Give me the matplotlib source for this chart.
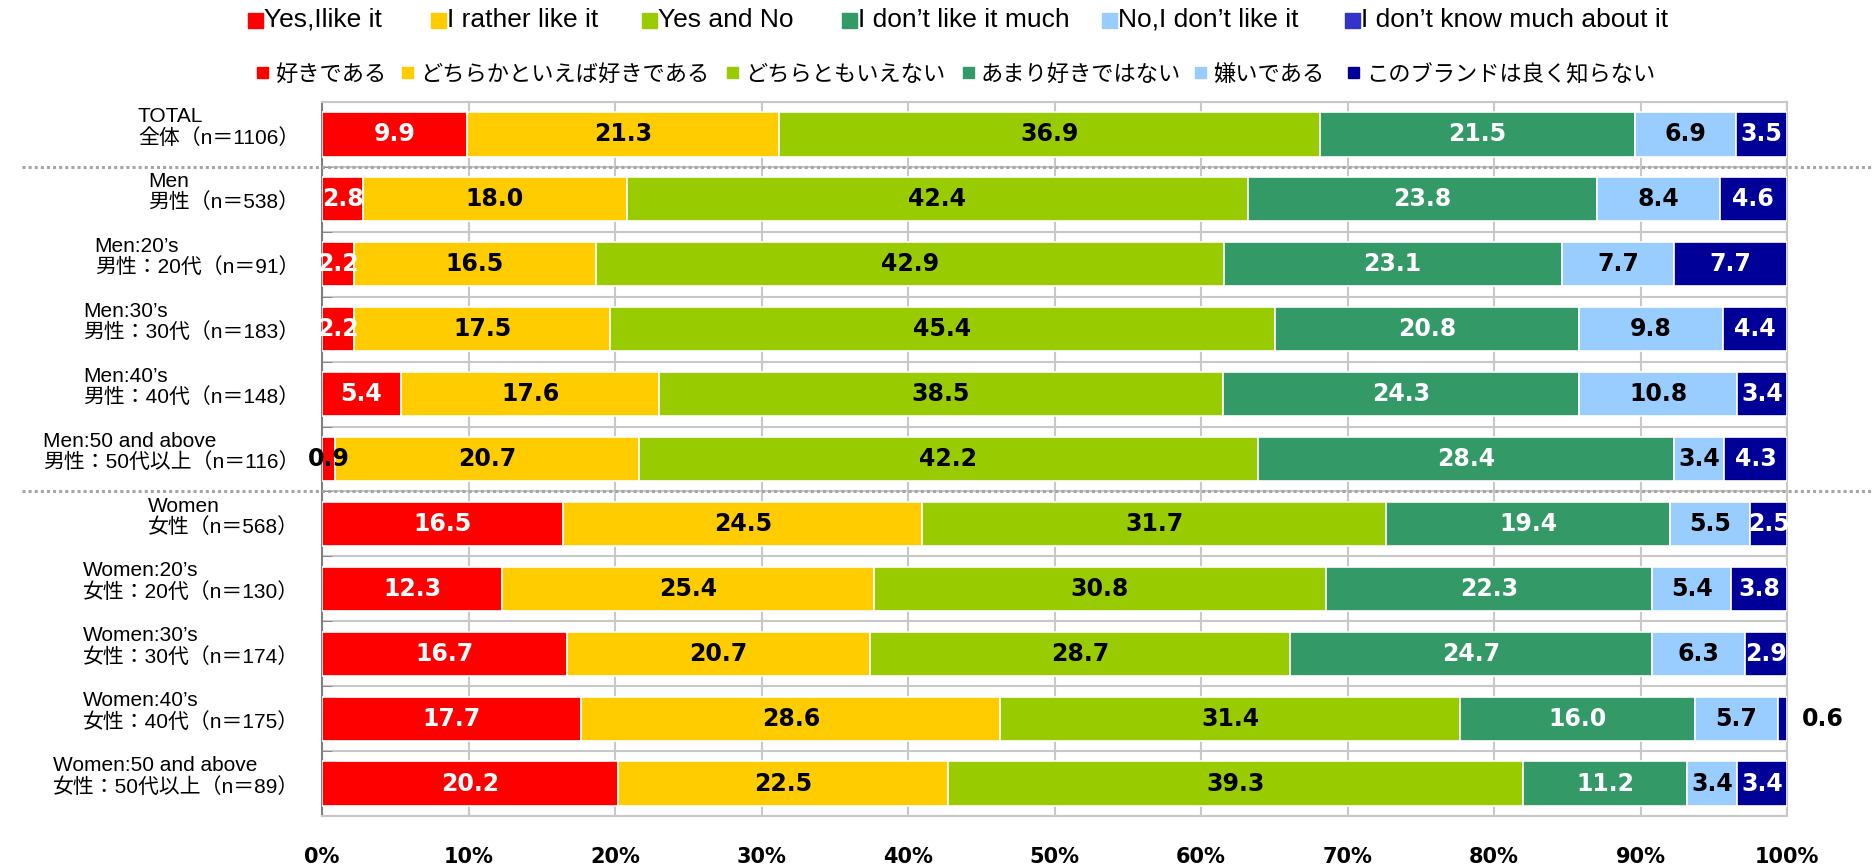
import matplotlib
matplotlib.use('Agg')
import matplotlib.pyplot as plt
import matplotlib.transforms as mtransforms
from matplotlib.patches import Rectangle
import numpy as np

# row labels (English line + Japanese line)
groups_en = ['TOTAL', 'Men', 'Men:20’s', 'Men:30’s', 'Men:40’s', 'Men:50 and above',
             'Women', 'Women:20’s', 'Women:30’s', 'Women:40’s', 'Women:50 and above']
groups_ja = ['全体（n＝1106）', '男性（n＝538）', '男性：20代（n＝91）', '男性：30代（n＝183）',
             '男性：40代（n＝148）', '男性：50代以上（n＝116）', '女性（n＝568）',
             '女性：20代（n＝130）', '女性：30代（n＝174）', '女性：40代（n＝175）',
             '女性：50代以上（n＝89）']

series_en = ['Yes,Ilike it', 'I rather like it', 'Yes and No', 'I don’t like it much',
             'No,I don’t like it', 'I don’t know much about it']
series_ja = ['好きである', 'どちらかといえば好きである', 'どちらともいえない',
             'あまり好きではない', '嫌いである', 'このブランドは良く知らない']

yes_like = [9.9, 2.8, 2.2, 2.2, 5.4, 0.9, 16.5, 12.3, 16.7, 17.7, 20.2]
rather_like = [21.3, 18.0, 16.5, 17.5, 17.6, 20.7, 24.5, 25.4, 20.7, 28.6, 22.5]
yes_and_no = [36.9, 42.4, 42.9, 45.4, 38.5, 42.2, 31.7, 30.8, 28.7, 31.4, 39.3]
not_much = [21.5, 23.8, 23.1, 20.8, 24.3, 28.4, 19.4, 22.3, 24.7, 16.0, 11.2]
dislike = [6.9, 8.4, 7.7, 9.8, 10.8, 3.4, 5.5, 5.4, 6.3, 5.7, 3.4]
dont_know = [3.5, 4.6, 7.7, 4.4, 3.4, 4.3, 2.5, 3.8, 2.9, 0.6, 3.4]

xticks = [0, 10, 20, 30, 40, 50, 60, 70, 80, 90, 100]

bar_colors = ['#FF0000', '#FFCC00', '#99CC00', '#339966', '#99CCFF', '#000099']
top_legend_colors = ['#FF0000', '#FFCC00', '#99CC00', '#339966', '#99CCFF', '#3333CC']
label_colors = ['white', 'black', 'black', 'white', 'black', 'white']

W, H = 1872, 866
# legend square positions in pixels (left edges)
top_sq_x = [248, 431, 642, 842, 1102, 1345]
bot_sq_x = [257, 402, 727, 963, 1195, 1348]

lat_cjk = ['Liberation Sans', 'Noto Sans CJK JP']

data = np.array([yes_like, rather_like, yes_and_no, not_much, dislike, dont_know])
shares = data / data.sum(axis=0) * 100

fig = plt.figure(figsize=(W / 100, H / 100), dpi=100)
ax = fig.add_axes([322 / W, 1 - 816 / H, 1465 / W, 714 / H])

y = np.arange(len(groups_en))
left = np.zeros(len(y))
for i in range(len(series_en)):
    ax.barh(y, shares[i], left=left, height=0.68, color=bar_colors[i],
            edgecolor='white', linewidth=1.2, zorder=3)
    for j in range(len(y)):
        v = data[i, j]
        cx = left[j] + shares[i, j] / 2
        color = label_colors[i]
        ha = 'center'
        if v < 1:
            color = 'black'
            if i == len(series_en) - 1:
                cx, ha = 101.0, 'left'
        ax.text(cx, y[j], f'{v:.1f}', ha=ha, va='center', color=color,
                fontsize=17, fontweight='bold', family='DejaVu Sans', zorder=5,
                clip_on=False)
    left += shares[i]

ax.set_xlim(0, 100)
ax.set_ylim(len(y) - 0.5, -0.5)
ax.set_xticks(xticks)
ax.set_xticklabels([f'{t}%' for t in xticks], fontsize=15, fontweight='bold',
                   family='DejaVu Sans')
ax.tick_params(axis='x', length=0, pad=22)
ax.set_yticks([])
ax.set_yticks(np.arange(len(y) + 1) - 0.5, minor=True)
ax.tick_params(axis='y', which='minor', direction='in', length=7, color='#808080',
               labelleft=False)
ax.grid(axis='x', color='#C8C8C8', linewidth=1.5, zorder=0)
ax.grid(axis='y', which='minor', color='#C8C8C8', linewidth=1.5, zorder=0)
for side in ['top', 'right', 'bottom']:
    ax.spines[side].set_color('#C8C8C8')
    ax.spines[side].set_linewidth(1.5)
ax.spines['left'].set_color('#808080')
ax.spines['left'].set_linewidth(1.5)

# row labels
lab_tr = mtransforms.blended_transform_factory(ax.transAxes, ax.transData)
for j in range(len(y)):
    ax.text(-0.0157, y[j] - 0.11, groups_en[j] + '\n' + groups_ja[j],
            transform=lab_tr, ha='right', va='center', multialignment='left',
            fontsize=15, family=lat_cjk, linespacing=1.1)

# dotted separators
sep_tr = mtransforms.blended_transform_factory(fig.transFigure, ax.transData)
for sy in [0.5, 5.5]:
    ax.plot([0.0118, 1.0], [sy, sy], transform=sep_tr, color='#A6A6A6',
            linewidth=2.2, linestyle=(0, (1, 1)), clip_on=False, zorder=6)

# legends (two rows)
for x0, c, t in zip(top_sq_x, top_legend_colors, series_en):
    fig.patches.append(Rectangle((x0 / W, 1 - 28 / H), 15 / W, 15 / H,
                                 transform=fig.transFigure, color=c))
    fig.text((x0 + 16) / W, 1 - 27 / H, t, ha='left', va='baseline',
             fontsize=19, family='Liberation Sans')
for x0, c, t in zip(bot_sq_x, bar_colors, series_ja):
    fig.patches.append(Rectangle((x0 / W, 1 - 78 / H), 11 / W, 11 / H,
                                 transform=fig.transFigure, color=c))
    fig.text((x0 + 18) / W, 1 - 81 / H, t, ha='left', va='baseline',
             fontsize=16, family='Noto Sans CJK JP')

fig.savefig('out.png', dpi=100)
